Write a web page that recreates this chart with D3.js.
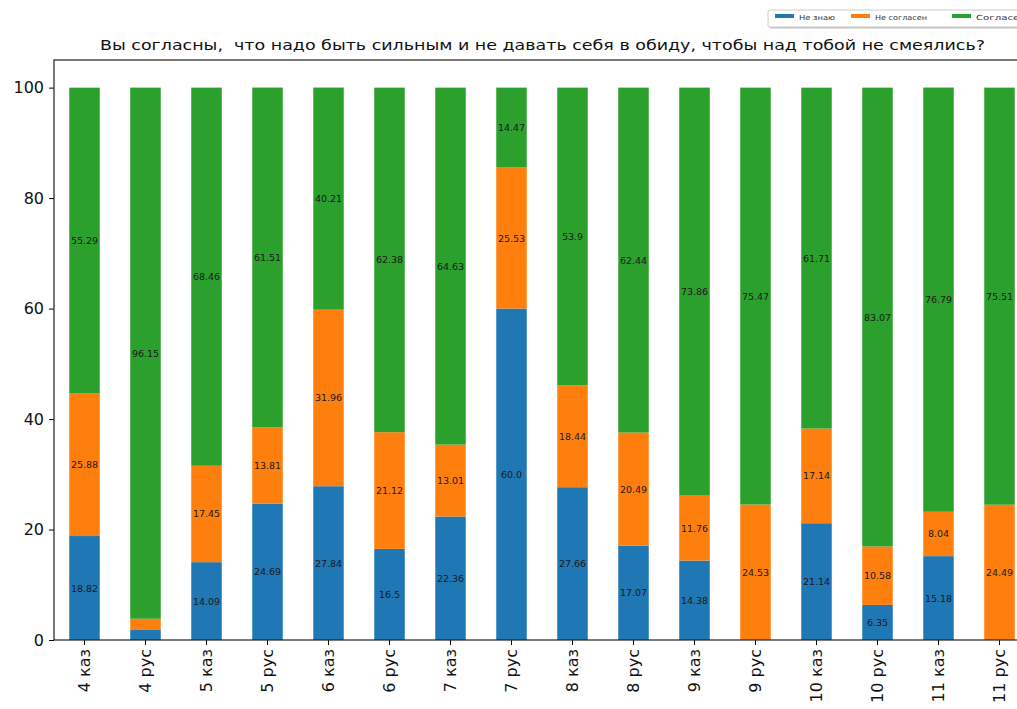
<!DOCTYPE html>
<html><head><meta charset="utf-8">
<script src="https://cdn.jsdelivr.net/npm/d3@7"></script>
<style>body{margin:0;background:#fff;} svg{display:block;font-family:"DejaVu Sans",sans-serif;} text{white-space:pre;}</style>
</head><body>
<svg id="c" width="1017" height="709"></svg>
<script>
const categories = ["4 каз","4 рус","5 каз","5 рус","6 каз","6 рус","7 каз","7 рус","8 каз","8 рус","9 каз","9 рус","10 каз","10 рус","11 каз","11 рус"];
const dontKnow   = [18.82,1.92,14.09,24.69,27.84,16.5,22.36,60.0,27.66,17.07,14.38,0,21.14,6.35,15.18,0];
const disagree   = [25.88,1.93,17.45,13.81,31.96,21.12,13.01,25.53,18.44,20.49,11.76,24.53,17.14,10.58,8.04,24.49];
const agree      = [55.29,96.15,68.46,61.51,40.21,62.38,64.63,14.47,53.9,62.44,73.86,75.47,61.71,83.07,76.79,75.51];
const seriesNames = ["Не знаю","Не согласен","Согласен"];
const yTicks = [0,20,40,60,80,100];
const title = "Вы согласны,  что надо быть сильным и не давать себя в обиду, чтобы над тобой не смеялись?";

const colors = ["#1f77b4","#ff7f0e","#2ca02c"];
const svg = d3.select("#c");
const L = 54, R = 1030, T = 60, B = 640;

const x = d3.scaleBand().domain(categories).range([L, R]).paddingInner(0.5).paddingOuter(0.25);
const y = d3.scaleLinear().domain([0, 105]).range([B, T]);

const series = [dontKnow, disagree, agree];
const fmt = v => Number.isInteger(v) ? v.toFixed(1) : String(v);
const rows = categories.map((c, i) => ({cat: c, s0: dontKnow[i], s1: disagree[i], s2: agree[i]}));
const stack = d3.stack().keys(["s0","s1","s2"])(rows);

stack.forEach((layer, k) => {
  const g = svg.append("g");
  g.selectAll("rect").data(layer).join("rect")
    .attr("x", d => x(d.data.cat))
    .attr("width", x.bandwidth())
    .attr("y", d => y(d[1]))
    .attr("height", d => y(d[0]) - y(d[1]))
    .attr("fill", colors[k]);
  g.selectAll("text").data(layer.filter(d => (d[1]-d[0]) >= 3)).join("text")
    .attr("x", d => x(d.data.cat) + x.bandwidth()/2)
    .attr("y", d => y((d[0]+d[1])/2))
    .attr("text-anchor", "middle")
    .attr("dominant-baseline", "central")
    .attr("font-size", 9.5)
    .attr("fill", "#1a1a1a")
    .text(d => fmt(series[k][categories.indexOf(d.data.cat)]));
});

// axes
const yAxis = svg.append("g").attr("transform", `translate(${L},0)`)
  .call(d3.axisLeft(y).tickValues(yTicks).tickSize(5).tickPadding(5).tickFormat(d3.format("d")));
yAxis.selectAll("text").attr("font-size", 16).attr("fill", "#111").attr("font-family", "DejaVu Sans");
yAxis.select(".domain").remove();

const xAxis = svg.append("g").attr("transform", `translate(0,${B})`)
  .call(d3.axisBottom(x).tickSize(5).tickPadding(4));
xAxis.select(".domain").remove();
xAxis.selectAll("text").attr("font-size", 16).attr("fill", "#111").attr("font-family", "DejaVu Sans")
  .attr("text-anchor", "end").attr("dy", "0.35em")
  .attr("transform", "rotate(-90)").attr("x", -9).attr("y", 0);

// spines
svg.append("rect").attr("x", L).attr("y", T).attr("width", R - L).attr("height", B - T)
  .attr("fill", "none").attr("stroke", "#222").attr("stroke-width", 1.2);

// title
svg.append("text").attr("x", 100).attr("y", 50).attr("text-anchor", "start")
  .attr("font-size", 14.5).attr("fill", "#111")
  .attr("textLength", 885).attr("lengthAdjust", "spacingAndGlyphs")
  .text(title);

// legend
const lg = svg.append("g");
lg.append("rect").attr("x", 768).attr("y", 10).attr("width", 262).attr("height", 17).attr("rx", 2)
  .attr("fill", "#888").attr("opacity", 0.5).attr("transform", "translate(1.5,1.5)");
lg.append("rect").attr("x", 768).attr("y", 10).attr("width", 262).attr("height", 17).attr("rx", 2)
  .attr("fill", "#fff").attr("stroke", "#ccc");
const lx = [775, 851, 952];
const lw = [36, 52, 50];
seriesNames.forEach((n, i) => {
  lg.append("rect").attr("x", lx[i]).attr("y", 14).attr("width", 19).attr("height", 4).attr("fill", colors[i]);
  lg.append("text").attr("x", lx[i] + 24).attr("y", 19.5).attr("font-size", 7).attr("fill", "#333")
    .attr("textLength", lw[i]).attr("lengthAdjust", "spacingAndGlyphs").text(n);
});
</script>
</body></html>
